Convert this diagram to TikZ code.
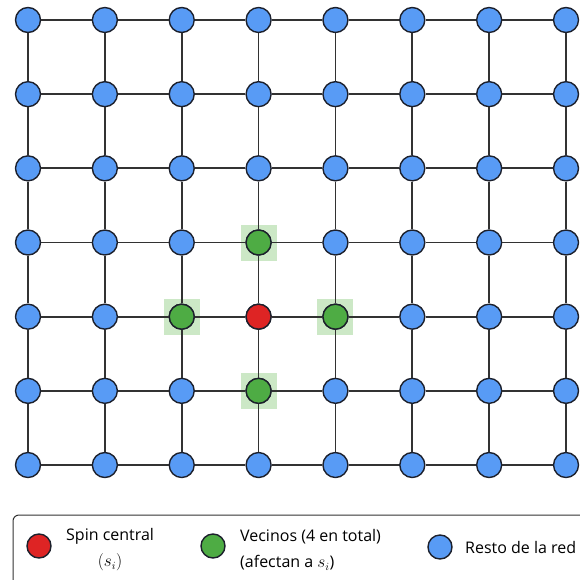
\documentclass[tikz,border=0pt]{standalone}
\usepackage{fontspec}
\setmainfont{Open Sans}
\usetikzlibrary{calc}
\definecolor{spinblue}{RGB}{88,155,245}
\definecolor{spinred}{RGB}{222,36,36}
\definecolor{spingreen}{RGB}{78,172,68}
\definecolor{spinhalo}{RGB}{204,232,198}
\definecolor{spinline}{RGB}{28,32,44}
\definecolor{gridline}{RGB}{50,50,50}
\tikzset{
  spin/.style = {circle, draw=spinline, line width=1.4pt, minimum size=25pt, inner sep=0pt},
  bond/.style = {draw=gridline, line width=1.7pt},
  legtext/.style = {font=\fontsize{16}{26}\selectfont, inner sep=0pt}
}

\begin{document}
\begin{tikzpicture}[x=1pt,y=-1pt]
  \useasboundingbox (0,0) rectangle (579,580);

  % halos behind the neighbours
  \foreach \i/\j in {3/3,2/4,4/4,3/5}{
    \fill[spinhalo] (28+76.86*\i-18,20+74.17*\j-18) rectangle ++(36,36);
  }

  \foreach \j in {0,...,6}
    \foreach \i in {0,...,7}{
      \node[spin, fill=spinblue] (n-\i-\j) at (28+76.86*\i, 20+74.17*\j) {};
    }

  % central spin and its neighbours
  \node[spin, fill=spinred] at (n-3-4) {};
  \foreach \i/\j in {3/3,2/4,4/4,3/5}{
    \node[spin, fill=spingreen] at (n-\i-\j) {};
  }

  \foreach \j in {0,...,6}
    \foreach \i in {0,...,6}{
      \pgfmathtruncatemacro{\k}{\i+1}
      \draw[bond] (n-\i-\j) -- (n-\k-\j);
    }
  \foreach \i in {0,...,7}
    \foreach \j in {0,...,5}{
      \pgfmathtruncatemacro{\k}{\j+1}
      \draw[bond] (n-\i-\j) -- (n-\i-\k);
    }

  % legend
  \draw[draw=gridline, line width=1pt, rounded corners=6pt] (13,515) rectangle (600,600);
  \node[spin, fill=spinred, minimum size=24pt] (leg-red) at (39,546) {};
  \node[legtext, align=center, anchor=west] (leg-redtext) at (66,550) {Spin central\\$(s_i)$};
  \node[spin, fill=spingreen, minimum size=24pt] (leg-green) at (213,546) {};
  \node[legtext, align=left, anchor=west] (leg-greentext) at (240,550) {Vecinos (4 en total)\\(afectan a $s_i$)};
  \node[spin, fill=spinblue, minimum size=24pt] (leg-blue) at (440,547) {};
  \node[legtext, anchor=west] (leg-bluetext) at (465,547) {Resto de la red};

\end{tikzpicture}
\end{document}
